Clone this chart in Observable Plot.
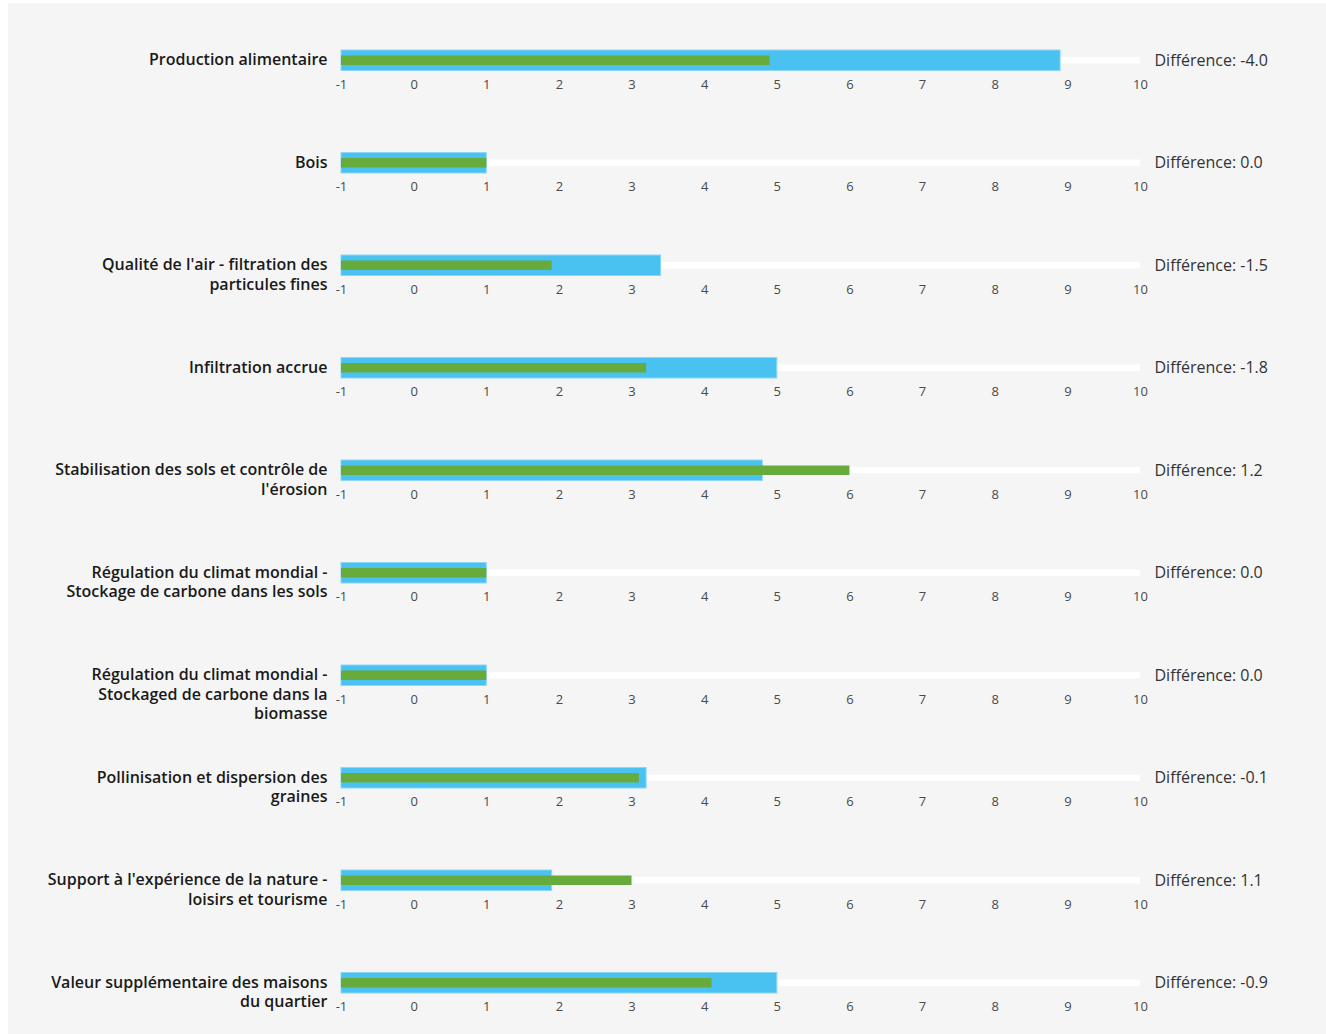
<!DOCTYPE html>
<html>
<head>
<meta charset="utf-8">
<script src="https://cdn.jsdelivr.net/npm/d3@7"></script>
<script src="https://cdn.jsdelivr.net/npm/@observablehq/plot@0.6"></script>
<style>
  html, body { margin: 0; padding: 0; background: #ffffff; overflow: hidden; }
  #panel { position: absolute; left: 8px; top: 3px; width: 1318px; height: 1031px; background: #f5f5f5; }
  #panel svg { display: block; background: transparent; }
</style>
</head>
<body>
<div id="panel"></div>
<script>
const categories = [
  "Production alimentaire",
  "Bois",
  "Qualité de l'air - filtration des\nparticules fines",
  "Infiltration accrue",
  "Stabilisation des sols et contrôle de\nl'érosion",
  "Régulation du climat mondial -\nStockage de carbone dans les sols",
  "Régulation du climat mondial -\nStockaged de carbone dans la\nbiomasse",
  "Pollinisation et dispersion des\ngraines",
  "Support à l'expérience de la nature -\nloisirs et tourisme",
  "Valeur supplémentaire des maisons\ndu quartier"
];
const blueValues  = [8.9, 1.0, 3.4, 5.0, 4.8, 1.0, 1.0, 3.2, 1.9, 5.0];
const greenValues = [4.9, 1.0, 1.9, 3.2, 6.0, 1.0, 1.0, 3.1, 3.0, 4.1];
const tickValues = [-1, 0, 1, 2, 3, 4, 5, 6, 7, 8, 9, 10];
const xMin = -1, xMax = 10;

const rows = categories.map((c, i) => ({
  cat: c,
  blue: blueValues[i],
  green: greenValues[i],
  diff: "Différence: " + (Math.round((greenValues[i] - blueValues[i]) * 10) / 10).toFixed(1)
}));
const tickRows = categories.flatMap(c => tickValues.map(t => ({cat: c, t})));

const FONT = "'Open Sans', Lato, sans-serif";

const chart = Plot.plot({
  width: 1318,
  height: 1031,
  marginLeft: 333,
  marginRight: 186,
  marginTop: 6,
  marginBottom: 0,
  style: {fontFamily: FONT, background: "transparent"},
  x: {domain: [xMin, xMax], axis: null},
  y: {domain: categories, padding: 0, round: false, axis: null},
  marks: [
    Plot.barX(rows, {y: "cat", x1: xMin, x2: xMax, fill: "#ffffff", insetTop: 48, insetBottom: 48}),
    Plot.barX(rows, {y: "cat", x1: xMin, x2: "blue", fill: "#49c1f1", stroke: "#8ed6f5", strokeWidth: 1, insetTop: 41, insetBottom: 41}),
    Plot.barX(rows, {y: "cat", x1: xMin, x2: "green", fill: "#67ab3d", insetTop: 46.5, insetBottom: 46.5}),
    Plot.text(tickRows, {x: "t", y: "cat", text: d => String(d.t), dy: 24, fontSize: 13, fill: "#4a4a4a"}),
    Plot.text(rows, {x: xMin, y: "cat", text: "cat", textAnchor: "end", lineAnchor: "top", dx: -14, dy: -9, fontSize: 16, fontWeight: 600, lineHeight: 1.2, fill: "#1a1a1a"}),
    Plot.text(rows, {x: xMax, y: "cat", text: "diff", textAnchor: "start", dx: 14, fontSize: 16, fill: "#333333"})
  ]
});
document.getElementById("panel").appendChild(chart);
</script>
</body>
</html>
